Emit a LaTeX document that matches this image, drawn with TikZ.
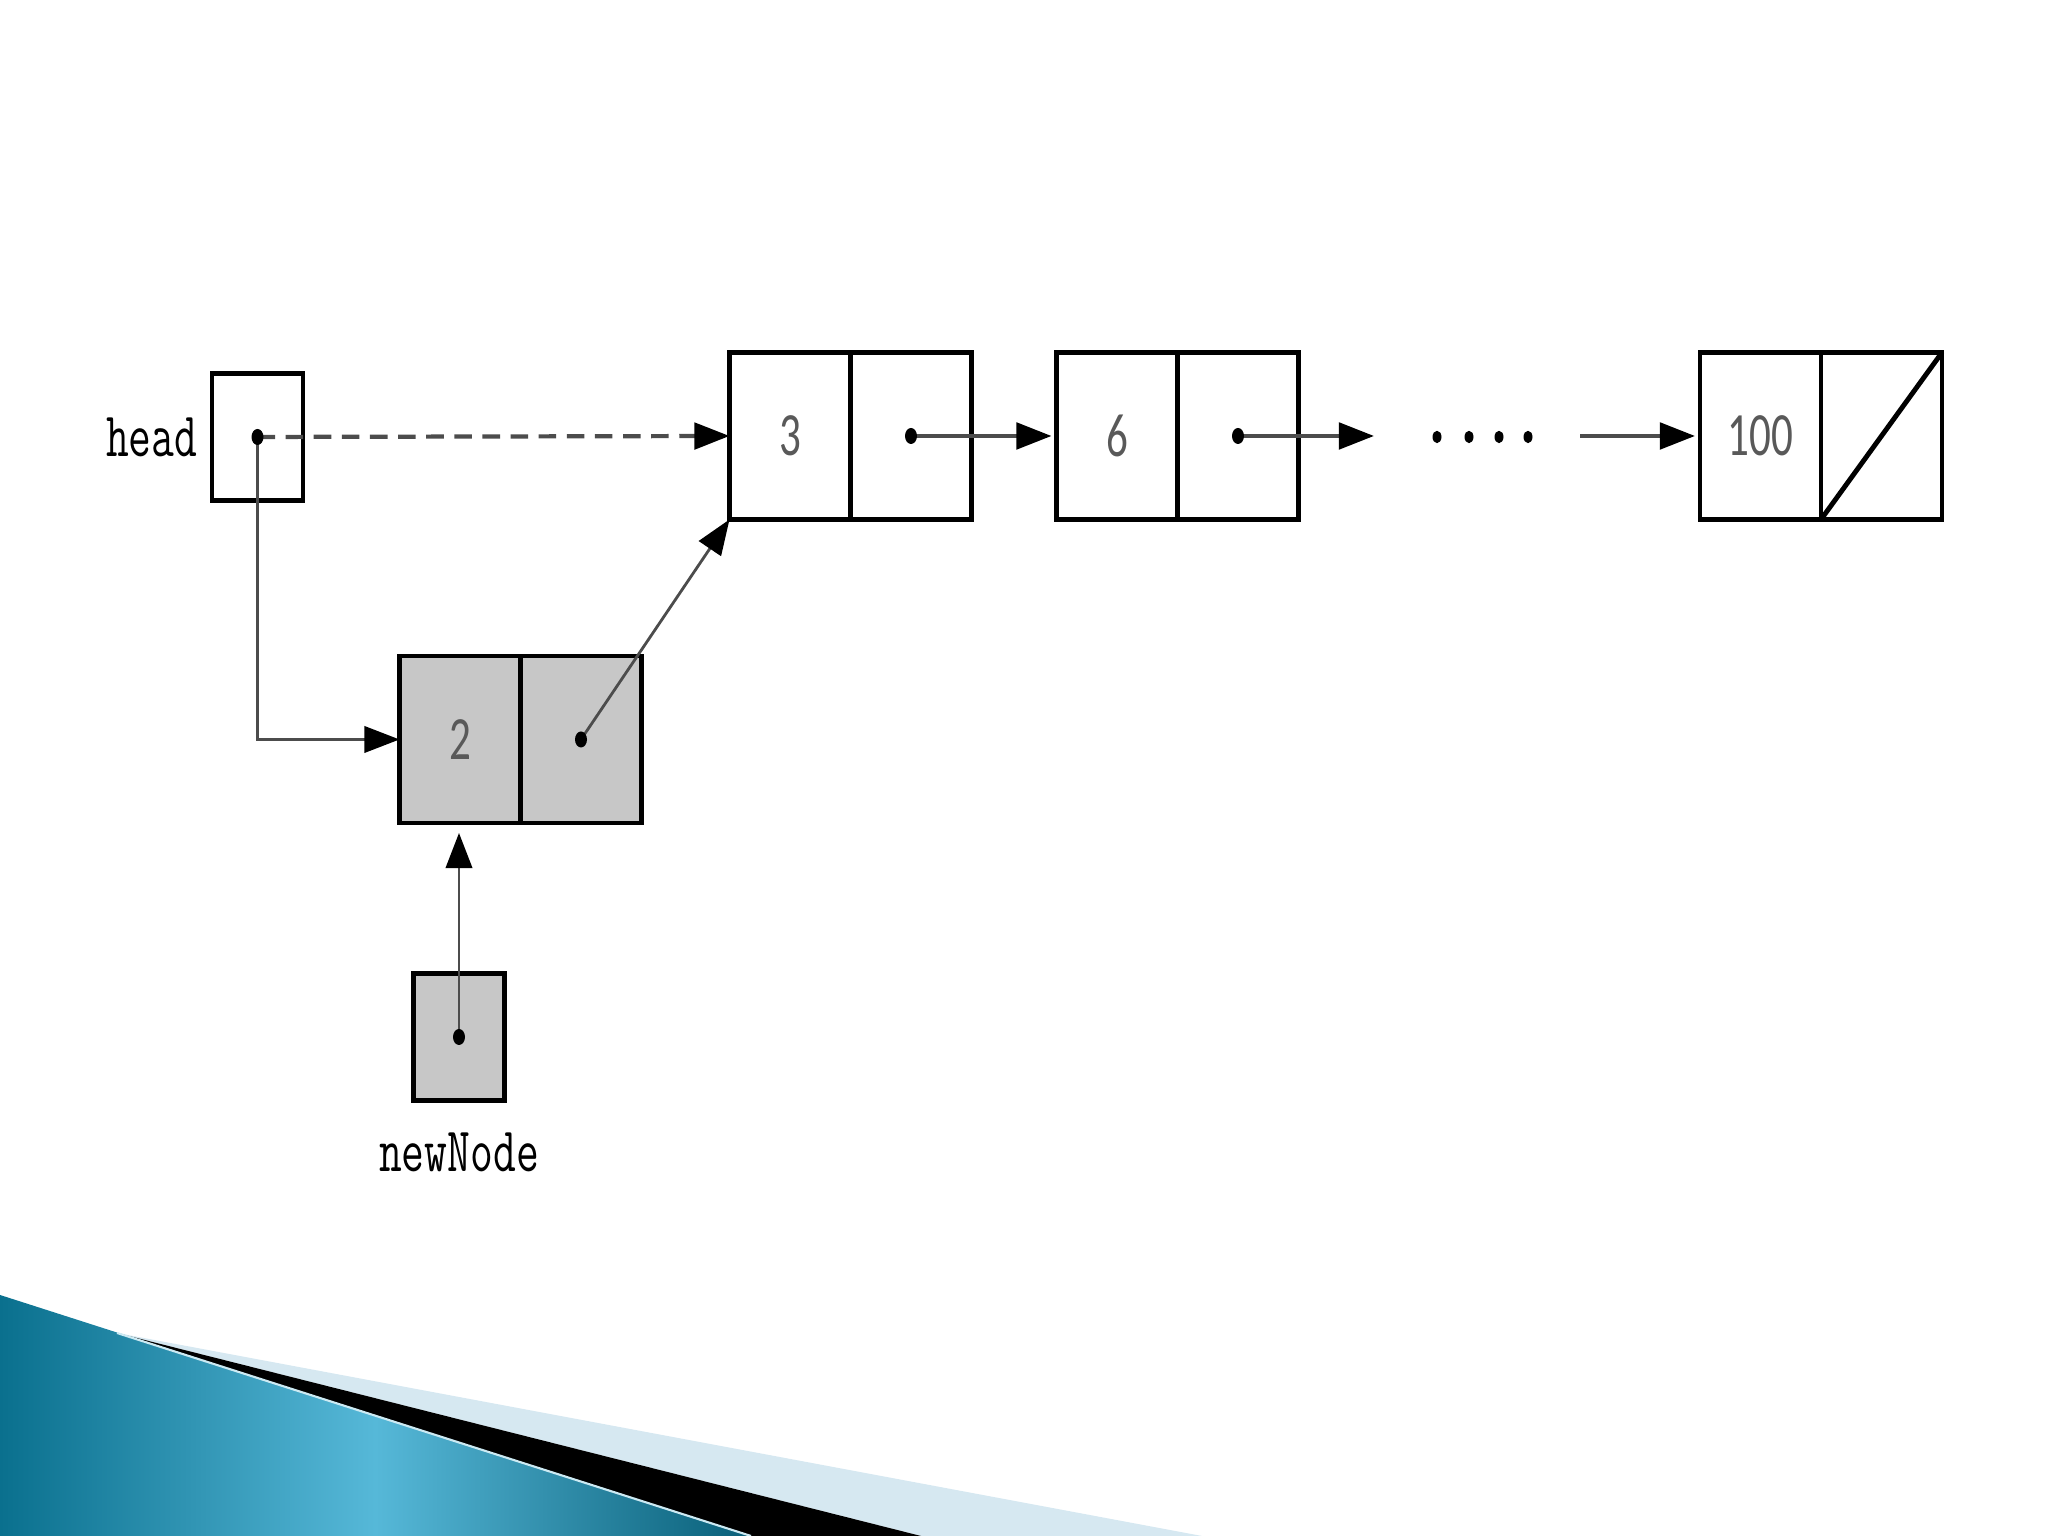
\documentclass[tikz,border=0pt]{standalone}
\usepackage{fontspec}
\usepackage{graphicx}
\newfontfamily\cifras{Carlito}
\usetikzlibrary{arrows.meta, positioning}

\definecolor{tealoscuro}{RGB}{10,112,142}
\definecolor{tealclaro}{RGB}{86,184,216}
\definecolor{azulpalido}{RGB}{214,232,241}

% texto estrecho como en la figura
\newcommand{\estrecho}[1]{\scalebox{0.7}[1]{#1}}

\begin{document}
\begin{tikzpicture}[>={Triangle[length=10pt, width=7.5pt, color=black]},
    celda/.style={draw, line width=1.4pt, minimum width=1.21cm, minimum height=1.67cm, inner sep=0pt, outer sep=0pt},
    puntero/.style={draw, line width=1.4pt, minimum width=0.91cm, minimum height=1.27cm, inner sep=0pt, outer sep=0pt},
    nuevo/.style={fill=black!22},
    cifra/.style={font=\cifras\fontsize{17.5}{20}\selectfont, text=black!65},
    rotulo/.style={font=\ttfamily\fontsize{18}{20}\selectfont, inner sep=0pt},
    enlace/.style={black!70, line width=0.8pt, ->},
    horiz/.style={line width=1.2pt}]
    \useasboundingbox (0,0) rectangle (20.48,15.36);

    % Decoracion inferior
    \fill[azulpalido] (1.17,2.03) -- (12.02,0) -- (9.21,0) -- cycle;
    \fill[black] (1.17,2.03) -- (9.21,0) -- (7.51,0) -- cycle;
    \shade[left color=tealoscuro, right color=tealoscuro!85!black, middle color=tealclaro]
        (0,2.41) -- (7.51,0) -- (0,0) -- cycle;
    \draw[white!70!tealclaro, line width=0.6pt] (1.17,2.03) -- (7.51,0);

    % Puntero head
    \node[puntero] (head) at (2.575,10.99) {};
    \node[rotulo, left=0.14cm of head] (headtxt) {\estrecho{head}};

    % Lista enlazada
    \node[celda, cifra] (d3) at (7.90,11.0) {\estrecho{3}};
    \node[celda, right=0pt of d3] (l3) {};
    \node[celda, cifra] (d6) at (11.17,11.0) {\estrecho{6}};
    \node[celda, right=0pt of d6] (l6) {};
    \node[celda, cifra] (d100) at (17.605,11.0) {\estrecho{100}};
    \node[celda, right=0pt of d100] (l100) {};
    \draw[line width=1.4pt] (l100.south west) -- (l100.north east);

    % Nodo nuevo
    \node[celda, cifra, nuevo] (d2) at (4.60,7.965) {\estrecho{2}};
    \node[celda, nuevo, right=0pt of d2] (l2) {};
    \node[puntero, nuevo] (nn) at (4.59,4.99) {};
    \node[rotulo, below=0.32cm of nn] (nntxt) {\estrecho{newNode}};

    % Enlaces
    \draw[enlace, horiz, dash pattern=on 5pt off 3pt] (head.center) -- (d3.west);
    \draw[enlace] (head.center) |- (d2.west);
    \draw[enlace] (l2.center) -- (d3.south west);
    \draw[enlace, shorten >=0.1cm] (nn.center) -- (nn.center |- d2.south);
    \draw[enlace, horiz, shorten >=0.05cm] (l3.center) -- (d6.west);
    \coordinate (fin6) at (13.74,11.0);
    \draw[enlace, horiz] (l6.center) -- (fin6);
    \coordinate (ini100) at (15.80,11.0);
    \draw[enlace, horiz, shorten >=0.05cm] (ini100) -- (d100.west);

    % Puntos suspensivos
    \foreach \x in {14.37,14.69,14.99,15.28}
        \fill (\x,10.99) ellipse [x radius=0.045, y radius=0.062];

    % Puntos de los punteros
    \foreach \p in {head, nn, l2, l3, l6}
        \fill (\p.center) ellipse [x radius=0.06, y radius=0.08];
\end{tikzpicture}
\end{document}
